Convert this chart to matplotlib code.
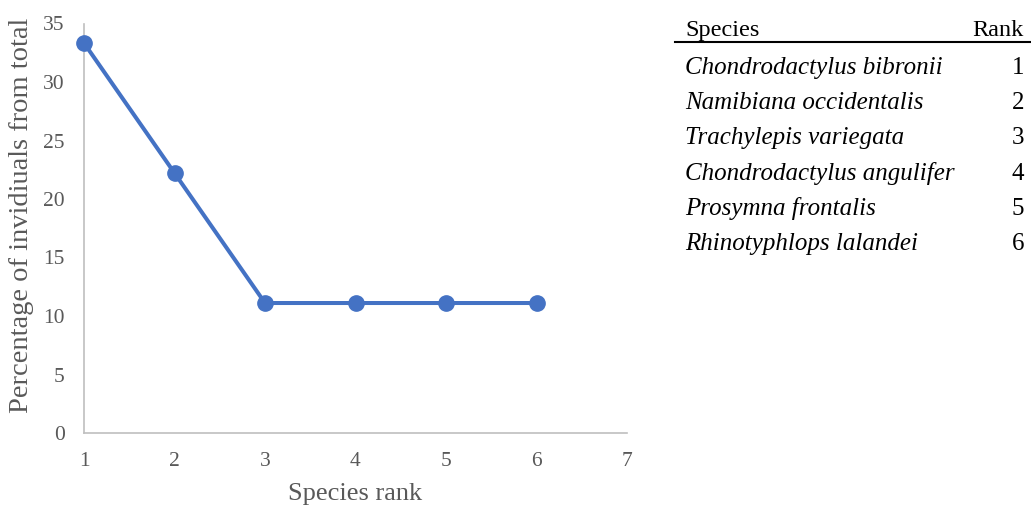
import matplotlib
matplotlib.use('Agg')
import matplotlib.pyplot as plt

# data
ranks = [1, 2, 3, 4, 5, 6]
percent = [33.33, 22.22, 11.11, 11.11, 11.11, 11.11]
species = ['Chondrodactylus bibronii', 'Namibiana occidentalis',
           'Trachylepis variegata', 'Chondrodactylus angulifer',
           'Prosymna frontalis', 'Rhinotyphlops lalandei']
x_ticks = [1, 2, 3, 4, 5, 6, 7]
y_ticks = [0, 5, 10, 15, 20, 25, 30, 35]

plt.rcParams['font.family'] = ['Liberation Serif', 'DejaVu Serif']

W, H = 1031, 507
fig = plt.figure(figsize=(W / 100, H / 100), dpi=100)
ax = fig.add_axes([84 / W, 1 - 433 / H, (627 - 84) / W, (433 - 23.5) / H])

ax.plot(ranks, percent, color='#4472C4', lw=2.9, marker='o', ms=11, zorder=3,
        clip_on=False)
ax.set_xlim(1, 7)
ax.set_ylim(0, 35)
ax.set_xticks(x_ticks)
ax.set_yticks(y_ticks)
ax.tick_params(length=0, labelsize=15.5, colors='#595959', pad=14)
for s in ['top', 'right']:
  ax.spines[s].set_visible(False)
for s in ['left', 'bottom']:
  ax.spines[s].set_color('#bfbfbf')
  ax.spines[s].set_linewidth(1.2)
ax.set_xlabel('Species rank', fontsize=19, color='#595959', labelpad=8)
ax.set_ylabel('Percentage of invidiuals from total', fontsize=20.5,
              color='#595959', va='center')
ax.yaxis.set_label_coords(-0.116, 0.532)

# species/rank table on the right
tx0, tx1 = 685, 1024
fig.text(tx0 / W, 1 - 36 / H, 'Species', fontsize=17.5, va='baseline', ha='left')
fig.text(tx1 / W, 1 - 36 / H, 'Rank', fontsize=17.5, va='baseline', ha='right')
fig.add_artist(plt.Line2D([675 / W, 1.0], [1 - 42 / H, 1 - 42 / H],
                          color='black', lw=1.5))
for i, (name, r) in enumerate(zip(species, ranks)):
  yy = 1 - (74 + i * 35.2) / H
  fig.text(tx0 / W, yy, name, fontsize=18, style='italic', va='baseline', ha='left')
  fig.text(tx1 / W, yy, str(r), fontsize=18, va='baseline', ha='right')

fig.savefig('out.png', dpi=100)
